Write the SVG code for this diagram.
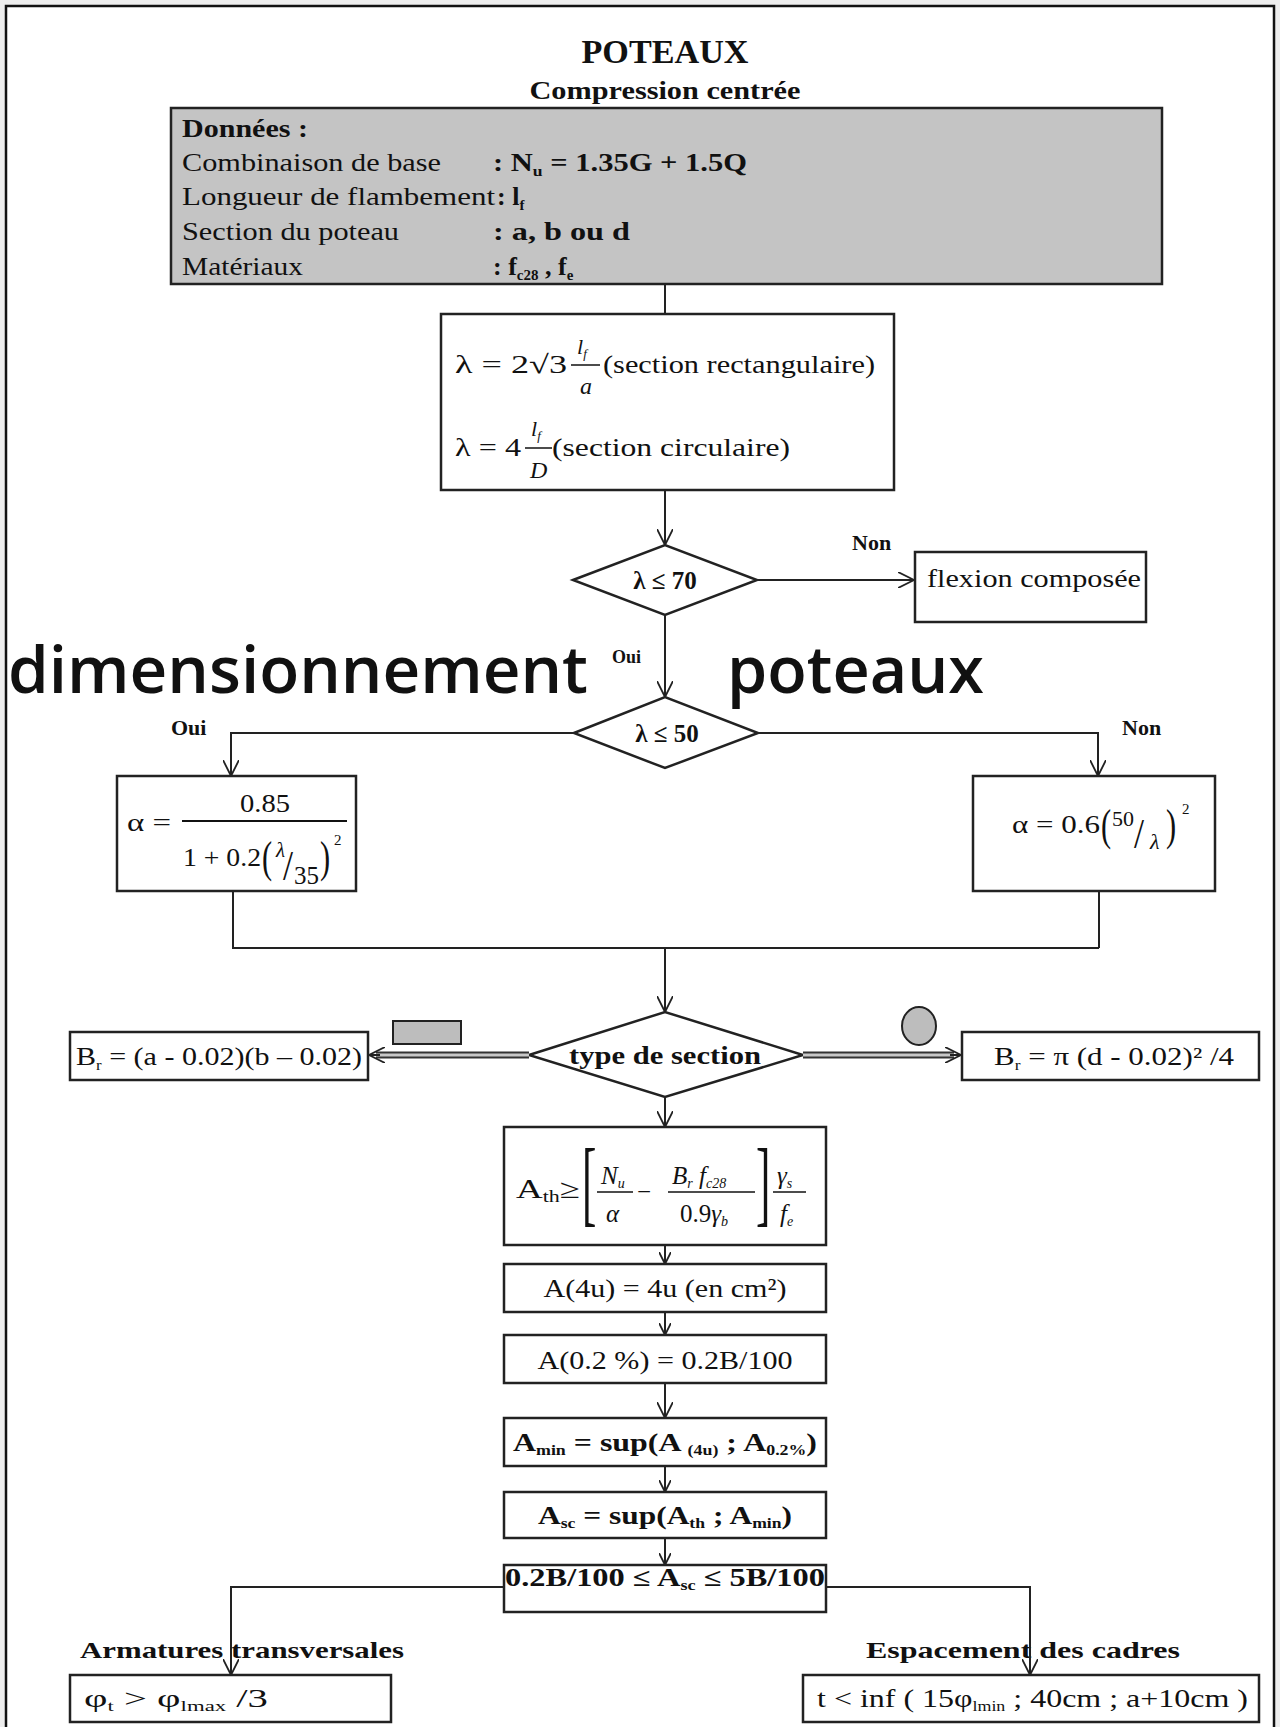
<svg xmlns="http://www.w3.org/2000/svg" width="1280" height="1727" viewBox="0 0 1280 1727">
<style>
.t{font-family:"Liberation Serif","Times New Roman",serif;fill:#111}
.b{font-weight:bold}
.i{font-style:italic}
.box{fill:#fff;stroke:#222;stroke-width:2.5}
.gbox{fill:#c4c4c4;stroke:#222;stroke-width:2.5}
.dia{fill:#fff;stroke:#222;stroke-width:2.5}
.ln{fill:none;stroke:#222;stroke-width:2}
.big{font-family:"Open Sans","Noto Sans",sans-serif;font-weight:600;fill:#111}
</style>
<defs>
<marker id="arr" viewBox="0 0 16 16" refX="16" refY="8" markerWidth="16" markerHeight="16" markerUnits="userSpaceOnUse" orient="auto">
<path d="M0,0 L16,8 L0,16" fill="none" stroke="#222" stroke-width="1.8"/>
</marker>
<marker id="arrs" viewBox="0 0 12 12" refX="12" refY="6" markerWidth="12" markerHeight="12" markerUnits="userSpaceOnUse" orient="auto">
<path d="M0,0 L12,6 L0,12" fill="none" stroke="#222" stroke-width="1.8"/>
</marker>
</defs>
<rect x="0" y="0" width="1280" height="1727" fill="#ededed"/>
<rect x="6" y="6" width="1268" height="1740" fill="#fff" stroke="#111" stroke-width="2.5"/>

<g id="title">
<text class="t b" x="665" y="63" font-size="33" text-anchor="middle" textLength="167" lengthAdjust="spacingAndGlyphs">POTEAUX</text>
<text class="t b" x="665" y="99" font-size="25" text-anchor="middle" textLength="271" lengthAdjust="spacingAndGlyphs">Compression centrée</text>
</g>

<g id="donnees">
<rect class="gbox" x="171" y="108" width="991" height="176"/>
<text class="t b" x="182" y="137" font-size="26" textLength="126" lengthAdjust="spacingAndGlyphs">Données :</text>
<text class="t" x="182" y="171" font-size="26" textLength="259" lengthAdjust="spacingAndGlyphs">Combinaison de base</text>
<text class="t b" x="493" y="171" font-size="26" textLength="254" lengthAdjust="spacingAndGlyphs">: N<tspan font-size="15" dy="5">u</tspan><tspan dy="-5"> = 1.35G + 1.5Q</tspan></text>
<text class="t" x="182" y="205" font-size="26" textLength="313" lengthAdjust="spacingAndGlyphs">Longueur de flambement</text>
<text class="t b" x="497" y="205" font-size="26">: l<tspan font-size="15" dy="5">f</tspan></text>
<text class="t" x="182" y="240" font-size="26" textLength="217" lengthAdjust="spacingAndGlyphs">Section du poteau</text>
<text class="t b" x="493" y="240" font-size="26" textLength="137" lengthAdjust="spacingAndGlyphs">: a, b ou d</text>
<text class="t" x="182" y="275" font-size="26" textLength="121" lengthAdjust="spacingAndGlyphs">Matériaux</text>
<text class="t b" x="493" y="275" font-size="26">: f<tspan font-size="15" dy="5">c28</tspan><tspan dy="-5"> , f</tspan><tspan font-size="15" dy="5">e</tspan></text>
</g>

<g id="elancement">
<rect class="box" x="441" y="314" width="453" height="176"/>
<text class="t" x="455" y="373" font-size="26" textLength="112" lengthAdjust="spacingAndGlyphs">λ = 2√3</text>
<text class="t i" x="577" y="354" font-size="22">l<tspan font-size="13" dy="4">f</tspan></text>
<line x1="571" y1="365" x2="600" y2="365" stroke="#111" stroke-width="1.5"/>
<text class="t i" x="580" y="394" font-size="24">a</text>
<text class="t" x="603" y="373" font-size="26" textLength="272" lengthAdjust="spacingAndGlyphs">(section rectangulaire)</text>
<text class="t" x="455" y="456" font-size="26" textLength="66" lengthAdjust="spacingAndGlyphs">λ = 4</text>
<text class="t i" x="531" y="436" font-size="22">l<tspan font-size="13" dy="4">f</tspan></text>
<line x1="525" y1="448" x2="552" y2="448" stroke="#111" stroke-width="1.5"/>
<text class="t i" x="530" y="478" font-size="24">D</text>
<text class="t" x="552" y="456" font-size="26" textLength="238" lengthAdjust="spacingAndGlyphs">(section circulaire)</text>
</g>

<g id="test70">
<polygon class="dia" points="573,580 665,545 757,580 665,615"/>
<text class="t b" x="665" y="589" font-size="25" text-anchor="middle">λ ≤ 70</text>
</g>

<g id="flexion">
<rect class="box" x="915" y="552" width="231" height="70"/>
<text class="t" x="927" y="587" font-size="26" textLength="214" lengthAdjust="spacingAndGlyphs">flexion composée</text>
</g>

<g id="titre-dim">
<text class="big" x="8" y="693" font-size="66" textLength="580" lengthAdjust="spacingAndGlyphs">dimensionnement</text>
<text class="big" x="727" y="693" font-size="66" textLength="257" lengthAdjust="spacingAndGlyphs">poteaux</text>
</g>

<g id="test50">
<polygon class="dia" points="574,733 665,697 758,733 665,768"/>
<text class="t b" x="667" y="742" font-size="25" text-anchor="middle">λ ≤ 50</text>
</g>

<g id="alpha1">
<rect class="box" x="117" y="776" width="239" height="115"/>
<text class="t" x="127" y="831" font-size="26" textLength="44" lengthAdjust="spacingAndGlyphs">α =</text>
<text class="t" x="265" y="812" font-size="25" text-anchor="middle" textLength="50" lengthAdjust="spacingAndGlyphs">0.85</text>
<line x1="182" y1="821" x2="347" y2="821" stroke="#111" stroke-width="1.8"/>
<text class="t" x="183" y="866" font-size="25" textLength="78" lengthAdjust="spacingAndGlyphs">1 + 0.2</text>
<text class="t" transform="translate(262,872) scale(0.8,1.15)" font-size="38">(</text>
<text class="t i" x="276" y="857" font-size="21">λ</text>
<text class="t" transform="translate(283,880) scale(1,1.2)" font-size="36">/</text>
<text class="t" x="294" y="884" font-size="25">35</text>
<text class="t" transform="translate(320,872) scale(0.8,1.15)" font-size="38">)</text>
<text class="t" x="334" y="845" font-size="15">2</text>
</g>

<g id="alpha2">
<rect class="box" x="973" y="776" width="242" height="115"/>
<text class="t" x="1012" y="833" font-size="26" textLength="88" lengthAdjust="spacingAndGlyphs">α = 0.6</text>
<text class="t" transform="translate(1101,840) scale(0.8,1.15)" font-size="38">(</text>
<text class="t" x="1112" y="826" font-size="22">50</text>
<text class="t" transform="translate(1134,848) scale(1,1.2)" font-size="36">/</text>
<text class="t i" x="1150" y="849" font-size="22">λ</text>
<text class="t" transform="translate(1166,840) scale(0.8,1.15)" font-size="38">)</text>
<text class="t" x="1182" y="814" font-size="15">2</text>
</g>

<g id="type-section">
<polygon class="dia" points="529,1055 665,1012 803,1055 665,1097"/>
<text class="t b" x="665" y="1064" font-size="26" text-anchor="middle" textLength="192" lengthAdjust="spacingAndGlyphs">type de section</text>
</g>

<g id="symbole-rect">
<rect x="393" y="1021" width="68" height="23" fill="#bdbdbd" stroke="#222" stroke-width="2"/>
</g>
<g id="symbole-cercle">
<ellipse cx="919" cy="1026" rx="17" ry="19" fill="#bdbdbd" stroke="#222" stroke-width="2"/>
</g>

<g id="br-rect">
<rect class="box" x="70" y="1032" width="298" height="48"/>
<text class="t" x="76" y="1065" font-size="25" textLength="286" lengthAdjust="spacingAndGlyphs">B<tspan font-size="14" dy="5">r</tspan><tspan dy="-5"> = (a - 0.02)(b – 0.02)</tspan></text>
</g>

<g id="br-circ">
<rect class="box" x="962" y="1032" width="297" height="48"/>
<text class="t" x="994" y="1065" font-size="25" textLength="240" lengthAdjust="spacingAndGlyphs">B<tspan font-size="14" dy="5">r</tspan><tspan dy="-5"> = π (d - 0.02)² /4</tspan></text>
</g>

<g id="ath">
<rect class="box" x="504" y="1127" width="322" height="118"/>
<text class="t" x="516" y="1198" font-size="27" textLength="64" lengthAdjust="spacingAndGlyphs">A<tspan font-size="16" dy="4">th</tspan><tspan dy="-4">≥</tspan></text>
<text class="t" transform="translate(582,1214) scale(0.45,1)" font-size="96">[</text>
<text class="t i" x="601" y="1184" font-size="25">N<tspan font-size="14" dy="4">u</tspan></text>
<line x1="597" y1="1192" x2="633" y2="1192" stroke="#111" stroke-width="1.5"/>
<text class="t i" x="606" y="1222" font-size="25">α</text>
<text class="t" x="637" y="1200" font-size="25">−</text>
<text class="t i" x="672" y="1184" font-size="25">B<tspan font-size="14" dy="4">r</tspan><tspan dy="-4"> f</tspan><tspan font-size="14" dy="4">c28</tspan></text>
<line x1="668" y1="1192" x2="755" y2="1192" stroke="#111" stroke-width="1.5"/>
<text class="t" x="680" y="1222" font-size="25">0.9<tspan class="i">γ</tspan><tspan class="i" font-size="14" dy="4">b</tspan></text>
<text class="t" transform="translate(756,1214) scale(0.45,1)" font-size="96">]</text>
<text class="t i" x="777" y="1184" font-size="25">γ<tspan font-size="14" dy="4">s</tspan></text>
<line x1="773" y1="1192" x2="806" y2="1192" stroke="#111" stroke-width="1.5"/>
<text class="t i" x="780" y="1222" font-size="25">f<tspan font-size="14" dy="4">e</tspan></text>
</g>

<g id="a4u">
<rect class="box" x="504" y="1264" width="322" height="48"/>
<text class="t" x="665" y="1297" font-size="26" text-anchor="middle" textLength="243" lengthAdjust="spacingAndGlyphs">A(4u) = 4u (en cm²)</text>
</g>

<g id="a02">
<rect class="box" x="504" y="1335" width="322" height="48"/>
<text class="t" x="665" y="1369" font-size="26" text-anchor="middle" textLength="255" lengthAdjust="spacingAndGlyphs">A(0.2 %) = 0.2B/100</text>
</g>

<g id="amin">
<rect class="box" x="504" y="1418" width="322" height="48"/>
<text class="t b" x="513" y="1451" font-size="25" textLength="304" lengthAdjust="spacingAndGlyphs">A<tspan font-size="14" dy="4">min</tspan><tspan dy="-4"> = sup(A </tspan><tspan font-size="14" dy="4">(4u)</tspan><tspan dy="-4"> ; A</tspan><tspan font-size="14" dy="4">0.2%</tspan><tspan dy="-4">)</tspan></text>
</g>

<g id="asc">
<rect class="box" x="504" y="1492" width="322" height="46"/>
<text class="t b" x="538" y="1524" font-size="25" textLength="254" lengthAdjust="spacingAndGlyphs">A<tspan font-size="14" dy="4">sc</tspan><tspan dy="-4"> = sup(A</tspan><tspan font-size="14" dy="4">th</tspan><tspan dy="-4"> ; A</tspan><tspan font-size="14" dy="4">min</tspan><tspan dy="-4">)</tspan></text>
</g>

<g id="encadrement">
<rect class="box" x="504" y="1565" width="322" height="47"/>
<text class="t b" x="505" y="1586" font-size="25" textLength="320" lengthAdjust="spacingAndGlyphs">0.2B/100 ≤ A<tspan font-size="14" dy="4">sc</tspan><tspan dy="-4"> ≤ 5B/100</tspan></text>
</g>

<g id="armatures">
<text class="t b" x="80" y="1658" font-size="24" textLength="324" lengthAdjust="spacingAndGlyphs">Armatures transversales</text>
<rect class="box" x="70" y="1675" width="321" height="47"/>
<text class="t" x="84" y="1707" font-size="25" textLength="184" lengthAdjust="spacingAndGlyphs">φ<tspan font-size="14" dy="4">t</tspan><tspan dy="-4"> &gt; φ</tspan><tspan font-size="14" dy="4">lmax</tspan><tspan dy="-4"> /3</tspan></text>
</g>

<g id="espacement">
<text class="t b" x="866" y="1658" font-size="24" textLength="314" lengthAdjust="spacingAndGlyphs">Espacement des cadres</text>
<rect class="box" x="803" y="1675" width="456" height="47"/>
<text class="t" x="817" y="1707" font-size="25" textLength="431" lengthAdjust="spacingAndGlyphs">t &lt; inf ( 15φ<tspan font-size="14" dy="4">lmin</tspan><tspan dy="-4"> ; 40cm ; a+10cm )</tspan></text>
</g>

<g id="connectors">
<line class="ln" x1="665" y1="284" x2="665" y2="314"/>
<line class="ln" x1="665" y1="490" x2="665" y2="545" marker-end="url(#arr)"/>
<line class="ln" x1="757" y1="580" x2="914" y2="580" marker-end="url(#arr)"/>
<text class="t b" x="852" y="550" font-size="22">Non</text>
<line class="ln" x1="665" y1="615" x2="665" y2="697" marker-end="url(#arr)"/>
<text class="t b" x="612" y="663" font-size="18">Oui</text>
<polyline class="ln" points="574,733 231,733 231,776" marker-end="url(#arr)"/>
<text class="t b" x="171" y="735" font-size="22">Oui</text>
<polyline class="ln" points="758,733 1098,733 1098,776" marker-end="url(#arr)"/>
<text class="t b" x="1122" y="735" font-size="22">Non</text>
<polyline class="ln" points="233,891 233,948 1099,948"/>
<line class="ln" x1="1099" y1="891" x2="1099" y2="948"/>
<line class="ln" x1="665" y1="948" x2="665" y2="1012" marker-end="url(#arr)"/>
<line x1="529" y1="1055" x2="376" y2="1055" stroke="#333" stroke-width="7"/>
<line x1="529" y1="1055" x2="376" y2="1055" stroke="#c8c8c8" stroke-width="3"/>
<line class="ln" x1="380" y1="1055" x2="369" y2="1055" marker-end="url(#arr)"/>
<line x1="803" y1="1055" x2="954" y2="1055" stroke="#333" stroke-width="7"/>
<line x1="803" y1="1055" x2="954" y2="1055" stroke="#c8c8c8" stroke-width="3"/>
<line class="ln" x1="950" y1="1055" x2="961" y2="1055" marker-end="url(#arr)"/>
<line class="ln" x1="665" y1="1097" x2="665" y2="1127" marker-end="url(#arr)"/>
<line class="ln" x1="665" y1="1245" x2="665" y2="1264" marker-end="url(#arrs)"/>
<line class="ln" x1="665" y1="1312" x2="665" y2="1335" marker-end="url(#arrs)"/>
<line class="ln" x1="665" y1="1383" x2="665" y2="1418" marker-end="url(#arr)"/>
<line class="ln" x1="665" y1="1466" x2="665" y2="1492" marker-end="url(#arrs)"/>
<line class="ln" x1="665" y1="1538" x2="665" y2="1565" marker-end="url(#arrs)"/>
<polyline class="ln" points="504,1587 231,1587 231,1675" marker-end="url(#arr)"/>
<polyline class="ln" points="826,1587 1030,1587 1030,1675" marker-end="url(#arr)"/>
</g>
</svg>
